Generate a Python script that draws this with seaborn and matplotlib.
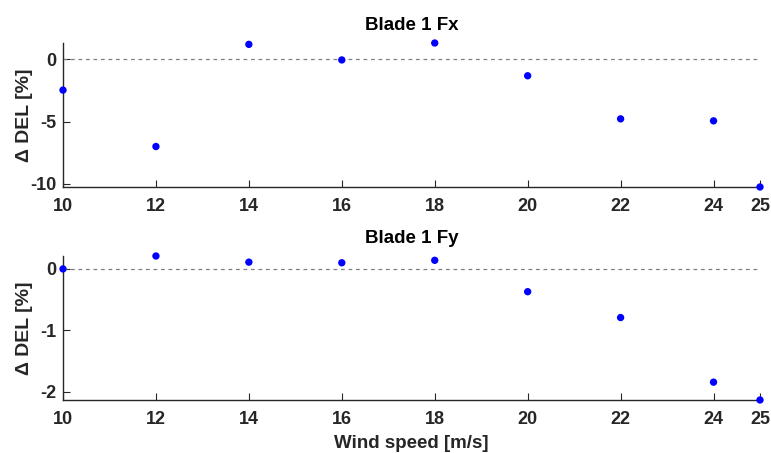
import matplotlib
matplotlib.use("Agg")
import matplotlib.pyplot as plt
import seaborn as sns
import pandas as pd

# Wind speeds and change in damage-equivalent load per blade force component
wind_speed = [10, 12, 14, 16, 18, 20, 22, 24, 25]
fx_delta = [-2.47, -7.0, 1.2, -0.05, 1.31, -1.32, -4.78, -4.94, -10.25]
fy_delta = [0.0, 0.21, 0.11, 0.10, 0.14, -0.37, -0.79, -1.84, -2.13]

x_ticks = [10, 12, 14, 16, 18, 20, 22, 24, 25]
fx_yticks = [-10, -5, 0]
fy_yticks = [-2, -1, 0]

sns.set_theme(style="white")
plt.rcParams["font.family"] = ["Liberation Sans", "DejaVu Sans"]
plt.rcParams["font.weight"] = "bold"

axis_color = "#262626"

fig = plt.figure(figsize=(7.71, 4.53), dpi=100)
W, H = 771, 453
ax1 = fig.add_axes([63 / W, 1 - 187 / H, (760 - 63) / W, (187 - 43) / H])
ax2 = fig.add_axes([63 / W, 1 - 400 / H, (760 - 63) / W, (400 - 256) / H])

panels = [
    (ax1, fx_delta, fx_yticks, "Blade 1 Fx", False),
    (ax2, fy_delta, fy_yticks, "Blade 1 Fy", True),
]

for ax, vals, yt, title, show_xlabel in panels:
    df = pd.DataFrame({"ws": wind_speed, "d": vals})
    ax.axhline(0, color="#808080", lw=0.9, ls=(0, (3, 3)), zorder=1)
    sns.scatterplot(data=df, x="ws", y="d", ax=ax, color="#0000ff",
                    s=28, edgecolor="none", zorder=3, clip_on=False)
    ax.set_xlim(min(wind_speed), max(wind_speed))
    ax.set_ylim(min(vals), max(vals))
    ax.set_xticks(x_ticks)
    ax.set_yticks(yt)
    ax.set_xticklabels([str(t) for t in x_ticks])
    ax.set_yticklabels([str(t) for t in yt])
    for side in ("top", "right"):
        ax.spines[side].set_visible(False)
    for side in ("left", "bottom"):
        ax.spines[side].set_color(axis_color)
        ax.spines[side].set_linewidth(1.0)
    ax.tick_params(axis="both", direction="in", length=5, width=0.8,
                   color=axis_color, labelsize=13, labelcolor=axis_color,
                   bottom=True, left=True)
    ax.tick_params(axis="x", pad=8)
    ax.tick_params(axis="y", pad=5)
    for lab in ax.get_xticklabels() + ax.get_yticklabels():
        lab.set_fontweight("bold")
    ax.set_title(title, fontsize=13.5, fontweight="bold", color="black", pad=9)
    ax.set_ylabel("\u0394 DEL [%]", fontsize=14, fontweight="bold",
                  color=axis_color)
    ax.yaxis.set_label_coords(-0.043, 0.5)
    if show_xlabel:
        ax.set_xlabel("Wind speed [m/s]", fontsize=13.5, fontweight="bold",
                      color=axis_color, labelpad=5)
    else:
        ax.set_xlabel("")

fig.savefig("out.png", dpi=100, facecolor="white")
